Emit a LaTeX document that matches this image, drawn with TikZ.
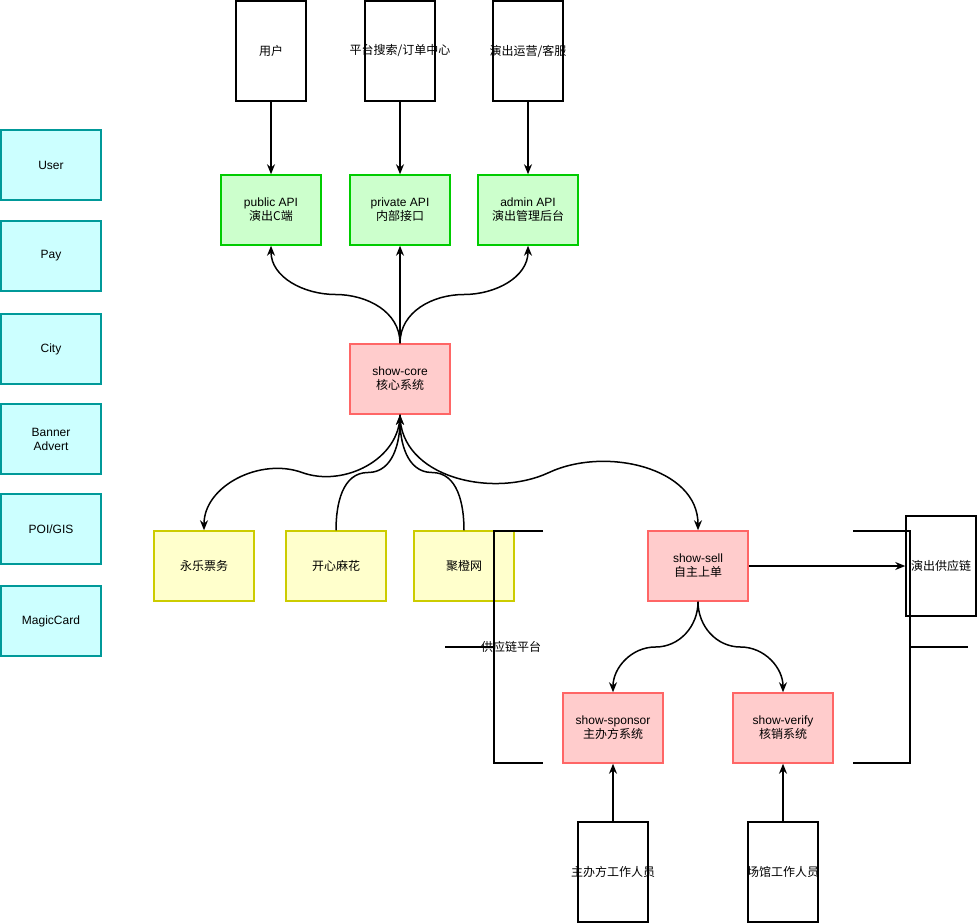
\documentclass[tikz,border=0pt]{standalone}
\usepackage{fontspec}
\setmainfont{Liberation Sans}
\newfontfamily\cjkfont{Noto Sans CJK SC}
\usepackage{tikz}
\usetikzlibrary{arrows.meta,calc}
\definecolor{apiline}{RGB}{0,204,0}
\definecolor{apifill}{RGB}{204,255,204}
\definecolor{coreline}{RGB}{255,102,102}
\definecolor{corefill}{RGB}{255,204,204}
\definecolor{vendorline}{RGB}{204,204,0}
\definecolor{vendorfill}{RGB}{255,255,204}
\definecolor{baseline}{RGB}{0,153,153}
\definecolor{basefill}{RGB}{204,255,255}

\begin{document}
\begin{tikzpicture}[x=1pt,y=1pt,font=\fontsize{12}{14}\selectfont]
    \newcommand{\zh}[1]{{\cjkfont #1}}
    \tikzstyle{box}=[
      rectangle,
      line width=1.5pt,
      minimum width=100pt,
      minimum height=70pt,
      inner sep=0pt,
      align=center
    ]
    \tikzstyle{api}    = [box,draw=apiline,fill=apifill]
    \tikzstyle{corebox}= [box,draw=coreline,fill=corefill]
    \tikzstyle{vendor} = [box,draw=vendorline,fill=vendorfill]
    \tikzstyle{base}   = [box,draw=baseline,fill=basefill]
    \tikzstyle{actor}  = [box,draw=black,fill=white,minimum width=70pt,minimum height=100pt]
    \tikzstyle{edge}   = [line width=1.5pt,-{Stealth[length=10pt,width=8pt]},draw=black]
    \tikzstyle{bracket}= [line width=1.5pt,draw=black]

    \useasboundingbox (0,0) rectangle (979,-923);

    \node[base] (user base)   at (51,-165) {User};
    \node[base] (pay base)    at (51,-256) {Pay};
    \node[base] (city base)   at (51,-349) {City};
    \node[base] (banner base) at (51,-439) {Banner\\Advert};
    \node[base] (poi base)    at (51,-529) {POI/GIS};
    \node[base] (magic base)  at (51,-621) {MagicCard};

    \node[actor,label={center:\zh{用户}}] (user) at (271,-51) {};
    \node[actor,label={center:\zh{平台搜索/订单中心}}] (search) at (400,-51) {};
    \node[actor,label={center:\zh{演出运营/客服}}] (operator) at (528,-51) {};

    \node[api] (public api)  at (271,-210) {public API\\\zh{演出C端}};
    \node[api] (private api) at (400,-210) {private API\\\zh{内部接口}};
    \node[api] (admin api)   at (528,-210) {admin API\\\zh{演出管理后台}};

    \node[corebox] (show core) at (400,-379) {show-core\\\zh{核心系统}};

    \node[vendor] (yongle) at (204,-566) {\zh{永乐票务}};
    \node[vendor] (kaixin) at (336,-566) {\zh{开心麻花}};
    \node[vendor] (juchen) at (464,-566) {\zh{聚橙网}};

    \node[corebox] (show sell)    at (698,-566) {show-sell\\\zh{自主上单}};
    \node[corebox] (show sponsor) at (613,-728) {show-sponsor\\\zh{主办方系统}};
    \node[corebox] (show verify)  at (783,-728) {show-verify\\\zh{核销系统}};

    \node[actor,label={center:\zh{演出供应链}}] (supply chain) at (941,-566) {};
    \node[actor,label={center:\zh{主办方工作人员}}] (sponsor staff) at (613,-872) {};
    \node[actor,label={center:\zh{场馆工作人员}}] (venue staff) at (783,-872) {};

    \draw[bracket] (543,-531) -| (494,-763) -- (543,-763);
    \draw[bracket] (445,-647) -- (494,-647);
    \node (platform) at (511,-647) {\zh{供应链平台}};
    \draw[bracket] (853,-531) -| (910,-763) -- (853,-763);
    \draw[bracket] (910,-647) -- (968,-647);

    \draw[edge] (user)--(public api);
    \draw[edge] (search)--(private api);
    \draw[edge] (operator)--(admin api);
    \draw[edge] (show core)--(private api);
    \draw[edge] (show core.north) to[out=90,in=0] ($(show core.north)!0.5!(public api.south)$) to[out=180,in=-90] (public api.south);
    \draw[edge] (show core.north) to[out=90,in=180] ($(show core.north)!0.5!(admin api.south)$) to[out=0,in=-90] (admin api.south);
    \draw[edge] (show core.south) to[out=-90,in=-20] ($(show core.south)!0.5!(yongle.north)$) to[out=160,in=90] (yongle.north);
    \draw[edge] (kaixin.north) to[out=90,in=180] ($(kaixin.north)!0.5!(show core.south)$) to[out=0,in=-90] (show core.south);
    \draw[edge] (juchen.north) to[out=90,in=0] ($(juchen.north)!0.5!(show core.south)$) to[out=180,in=-90] (show core.south);
    \draw[edge] (show core.south) to[out=-90,in=205] ($(show core.south)!0.5!(show sell.north)$) to[out=25,in=90] (show sell.north);
    \draw[edge] (show sell)--(supply chain);
    \draw[edge] (show sell.south) to[out=-90,in=0] ($(show sell.south)!0.5!(show sponsor.north)$) to[out=180,in=90] (show sponsor.north);
    \draw[edge] (show sell.south) to[out=-90,in=180] ($(show sell.south)!0.5!(show verify.north)$) to[out=0,in=90] (show verify.north);
    \draw[edge] (sponsor staff)--(show sponsor);
    \draw[edge] (venue staff)--(show verify);
  \end{tikzpicture}
\end{document}
